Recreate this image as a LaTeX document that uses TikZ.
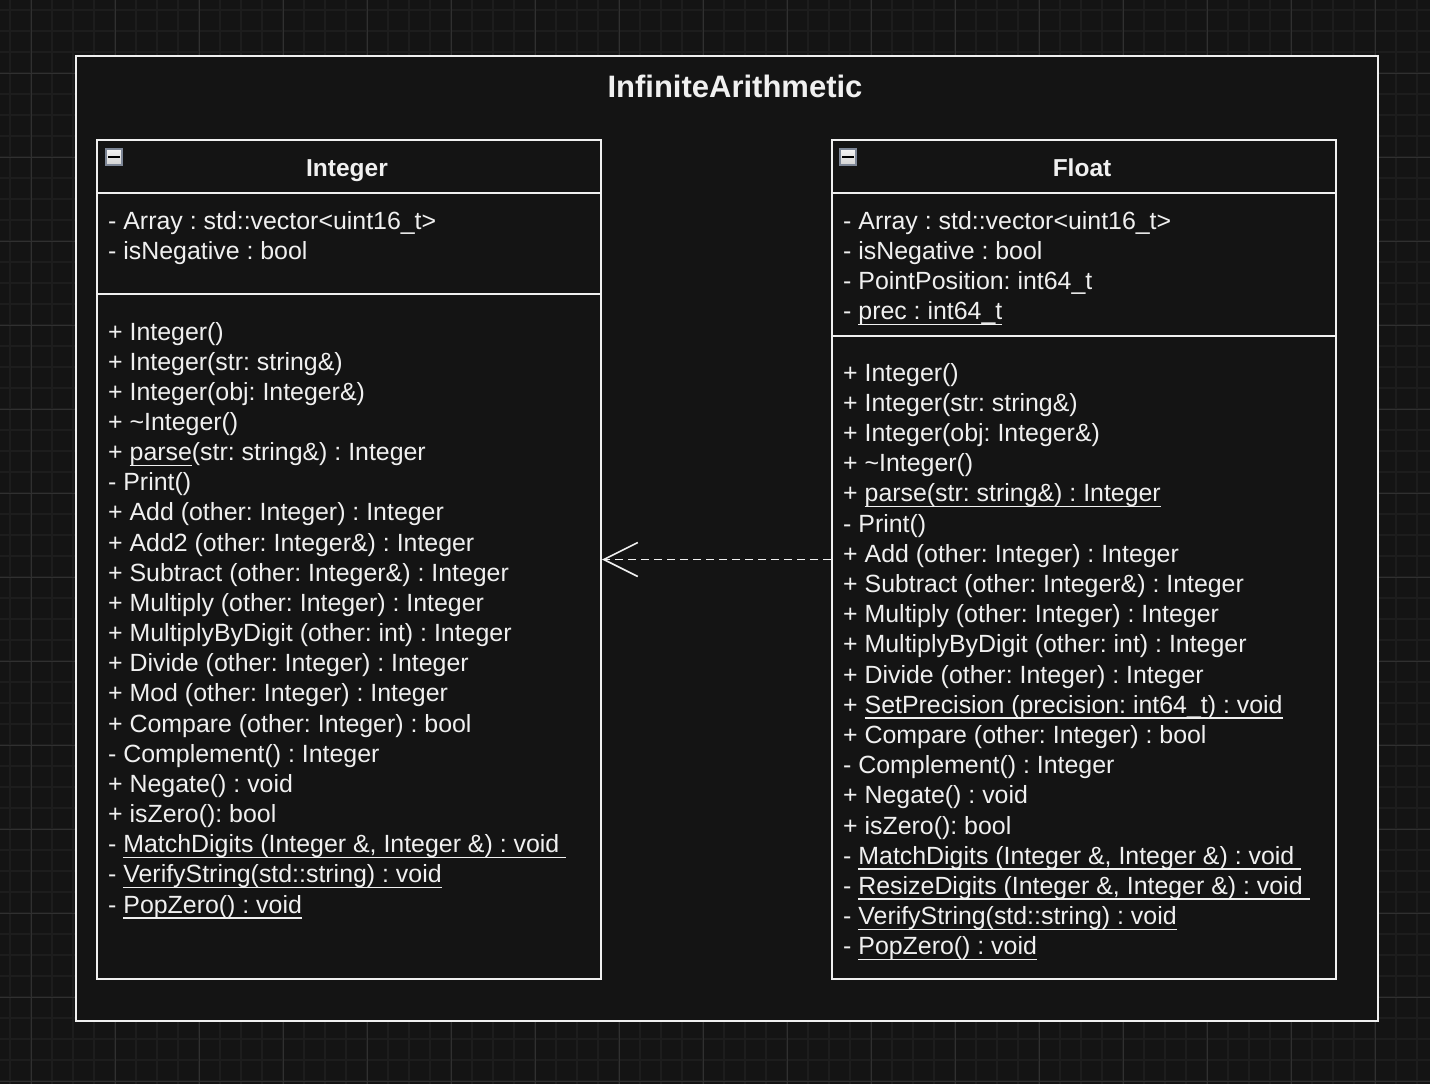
\documentclass[tikz,border=0pt]{standalone}
\usepackage{fontspec}
\setmainfont{Liberation Sans}
\usepackage{tikz}
\usetikzlibrary{arrows.meta}

\definecolor{bgcol}{HTML}{141414}
\definecolor{fgcol}{HTML}{F0F0F0}
\definecolor{gridmin}{HTML}{1D1D1D}
\definecolor{gridmaj}{HTML}{303030}
\definecolor{iconedge}{HTML}{7D8696}

\frenchspacing
\newcommand{\bodyfont}{\fontsize{24.9}{28}\selectfont}
\newsavebox{\ulsave}
\newcommand{\undl}[1]{\sbox{\ulsave}{#1}\rlap{\rule[-5.5pt]{\wd\ulsave}{1.5pt}}\usebox{\ulsave}}

\tikzset{
  classbox/.style={draw=fgcol, line width=2pt, fill=bgcol, anchor=north west,
    minimum width=504, minimum height=839, inner sep=0pt},
  member/.style={anchor=base west, inner sep=0pt, text=fgcol, font=\bodyfont},
  header/.style={anchor=base, inner sep=0pt, text=fgcol,
    font=\fontsize{24.5}{28}\selectfont\bfseries},
  minusbox/.style={draw=iconedge, line width=1.5pt, top color=white!92!gray,
    bottom color=white!65!gray, minimum size=16, inner sep=0pt,
    path picture={\draw[black, line width=2.5pt]
      ([xshift=-6]path picture bounding box.center) --
      ([xshift=6]path picture bounding box.center);}},
  realizes/.style={draw=fgcol, line width=1.6pt, dash pattern=on 8pt off 5pt,
    -{Straight Barb[length=34pt, width=34pt, line width=1.6pt]}},
}

\begin{document}
\begin{tikzpicture}[x=1pt, y=-1pt]
  \useasboundingbox (0,0) rectangle (1430,1084);
  % canvas grid
  \fill[bgcol] (0,0) rectangle (1430,1084);
  \foreach \g in {10,31,...,1430} \draw[gridmin, line width=2.5pt] (\g,0) -- (\g,1084);
  \foreach \g in {10,31,...,1084} \draw[gridmin, line width=2.5pt] (0,\g) -- (1430,\g);
  \foreach \g in {31,115,...,1430} \draw[gridmaj, line width=1pt] (\g,0) -- (\g,1084);
  \foreach \g in {73,157,...,1084} \draw[gridmaj, line width=1pt] (0,\g) -- (1430,\g);

  % package frame
  \node[draw=fgcol, line width=2pt, fill=bgcol, anchor=north west,
    minimum width=1302, minimum height=965, inner sep=0pt] (pkg) at (75,55) {};
  \node[header, font=\fontsize{31}{34}\selectfont\bfseries] (pkgname) at (735,97) {InfiniteArithmetic};

  % Integer
  \node[classbox] (int) at (96,139) {};
  \draw[fgcol, line width=2pt] (96,193) -- (600,193) (96,294) -- (600,294);
  \node[minusbox] (intmin) at (114,157) {};
  \node[header] (intname) at (347,176) {Integer};
  \foreach \t [count=\i] in {%
      {- Array : std::vector<uint16\_t>},
      {- isNegative : bool}}
    \node[member] (int-a\i) at (108,{229+30.2*(\i-1)}) {\t};
  \foreach \t [count=\i] in {%
      {+ Integer()},
      {+ Integer(str: string\&)},
      {+ Integer(obj: Integer\&)},
      {+ \textasciitilde Integer()},
      {+ \undl{parse}(str: string\&) : Integer},
      {- Print()},
      {+ Add (other: Integer) : Integer},
      {+ Add2 (other: Integer\&) : Integer},
      {+ Subtract (other: Integer\&) : Integer},
      {+ Multiply (other: Integer) : Integer},
      {+ MultiplyByDigit (other: int) : Integer},
      {+ Divide (other: Integer) : Integer},
      {+ Mod (other: Integer) : Integer},
      {+ Compare (other: Integer) : bool},
      {- Complement() : Integer},
      {+ Negate() : void},
      {+ isZero(): bool},
      {- \undl{MatchDigits (Integer \&, Integer \&) : void\ }},
      {- \undl{VerifyString(std::string) : void}},
      {- \undl{PopZero() : void}}}
    \node[member] (int-m\i) at (108,{340+30.16*(\i-1)}) {\t};

  % Float
  \node[classbox] (flt) at (831,139) {};
  \draw[fgcol, line width=2pt] (831,193) -- (1335,193) (831,336) -- (1335,336);
  \node[minusbox] (fltmin) at (848,157) {};
  \node[header] (fltname) at (1082,176) {Float};
  \foreach \t [count=\i] in {%
      {- Array : std::vector<uint16\_t>},
      {- isNegative : bool},
      {- PointPosition: int64\_t},
      {- \undl{prec : int64\_t}}}
    \node[member] (flt-a\i) at (843,{229+30.3*(\i-1)}) {\t};
  \foreach \t [count=\i] in {%
      {+ Integer()},
      {+ Integer(str: string\&)},
      {+ Integer(obj: Integer\&)},
      {+ \textasciitilde Integer()},
      {+ \undl{parse(str: string\&) : Integer}},
      {- Print()},
      {+ Add (other: Integer) : Integer},
      {+ Subtract (other: Integer\&) : Integer},
      {+ Multiply (other: Integer) : Integer},
      {+ MultiplyByDigit (other: int) : Integer},
      {+ Divide (other: Integer) : Integer},
      {+ \undl{SetPrecision (precision: int64\_t) : void}},
      {+ Compare (other: Integer) : bool},
      {- Complement() : Integer},
      {+ Negate() : void},
      {+ isZero(): bool},
      {- \undl{MatchDigits (Integer \&, Integer \&) : void\ }},
      {- \undl{ResizeDigits (Integer \&, Integer \&) : void\ }},
      {- \undl{VerifyString(std::string) : void}},
      {- \undl{PopZero() : void}}}
    \node[member] (flt-m\i) at (843,{381+30.2*(\i-1)}) {\t};

  % dependency
  \draw[realizes] (flt) -- (int);
\end{tikzpicture}
\end{document}
